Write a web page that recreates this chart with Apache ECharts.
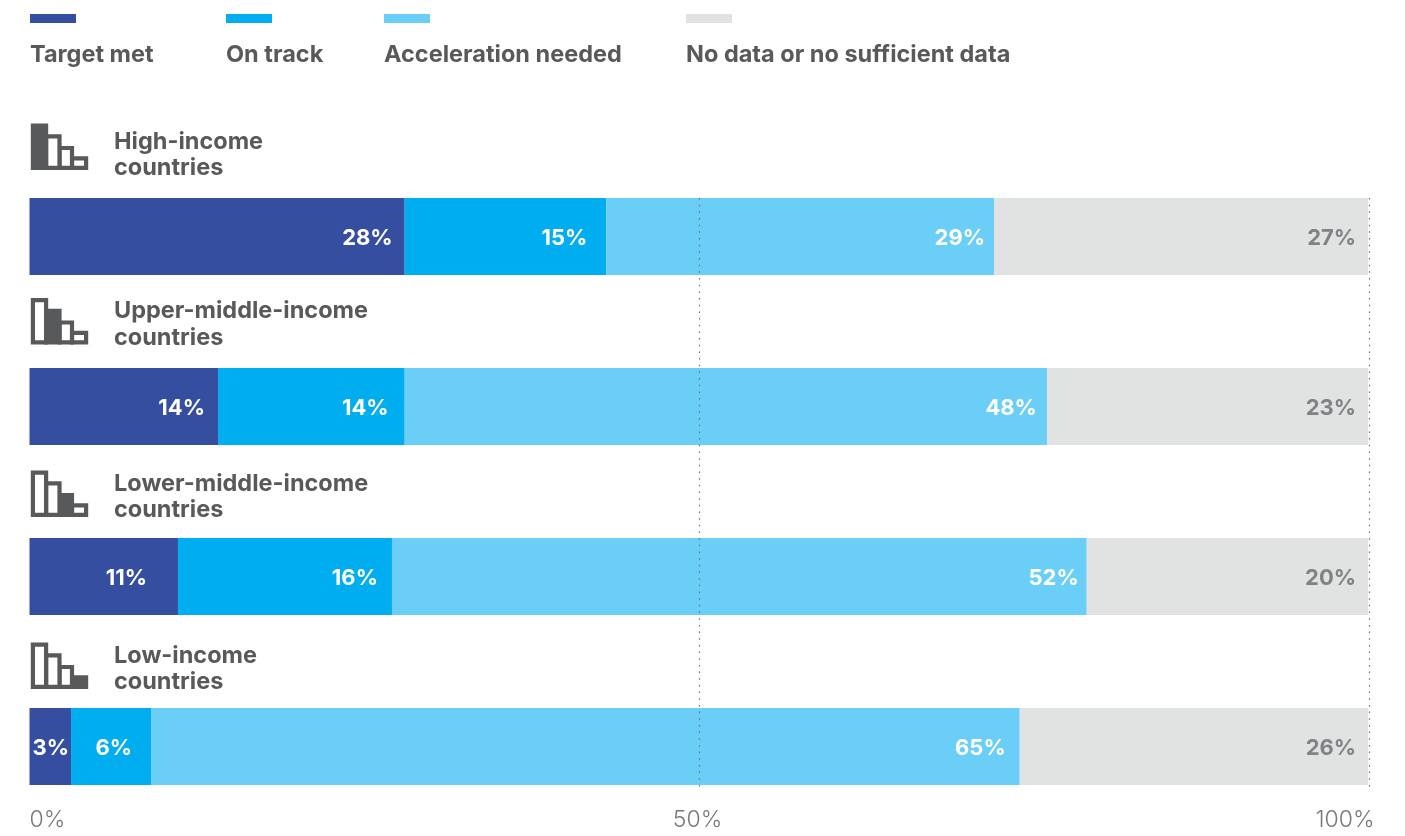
<!doctype html>
<html>
	<head>
		<meta charset="utf-8">
		<title>Progress by income group</title>
		<script type="text/javascript" src="https://cdn.jsdelivr.net/npm/echarts@6/dist/echarts.min.js"></script>
		<style>html,body{margin:0;background:#fff}</style>
	</head>
	<body>
		<div id="JS_chart" style="width:1405px;height:836px;"></div>
		<script type="text/javascript">
// bar lengths, in % of the axis
var categories = ['High-income countries', 'Upper-middle-income countries', 'Lower-middle-income countries', 'Low-income countries'];
var targetMet = [28, 14.07, 11.08, 3.1];
var onTrack = [15.05, 13.93, 15.97, 5.97];
var accelerationNeeded = [28.93, 47.93, 51.85, 64.83];
var noData = [27.92, 23.97, 21, 26];

// printed labels do not always add up to the bars
var targetMetLabels = ['28%', '14%', '11%', '3%'];
var onTrackLabels = ['15%', '14%', '16%', '6%'];
var accelerationLabels = ['29%', '48%', '52%', '65%'];
var noDataLabels = ['27%', '23%', '20%', '26%'];

var seriesNames = ['Target met', 'On track', 'Acceleration needed', 'No data or no sufficient data'];
var rowTitles = [['High-income', 'countries'], ['Upper-middle-income', 'countries'], ['Lower-middle-income', 'countries'], ['Low-income', 'countries']];
var axisTicks = ['0%', '50%', '100%'];

var colors = ['#364ea0', '#00aeef', '#6bcef7', '#e1e3e2'];
var textColor = '#58595b';
var fontName = 'Inter';
var boldFont = '700 23.5px ' + fontName;

// layout of everything around the bars
var legendX = [30, 226, 384, 686];
var rowTitleY = [[142, 168], [311, 338], [484, 510], [656, 682]];
var iconY = [123.5, 298, 470.5, 642.5];
var labelPad = [[12, 19, 9, 12], [13, 16, 10, 12], [31, 14, 8, 12], [2, 19, 14, 12]];

function buildSeries(index, values, labels) {
	return {
		name: seriesNames[index],
		type: 'bar',
		stack: 'total',
		barWidth: 77,
		silent: true,
		itemStyle: {color: colors[index]},
		data: values.map(function (v, i) {
			return {
				value: v,
				label: {
					show: true,
					position: 'insideRight',
					distance: labelPad[i][index],
					offset: [0, 1.5],
					formatter: labels[i],
					color: index == 3 ? '#808285' : '#fff',
					fontFamily: fontName,
					fontWeight: 700,
					fontSize: 22
				}
			};
		})
	};
}

// little staircase icon, the income group's step is filled
function buildIcon(top, filled) {
	var steps = [[32.9, 46.1, 0], [46.1, 59.5, 10.7], [59.5, 72, 22.4], [72, 86.1, 32.7]];
	var bottom = top + 46.5;
	return steps.map(function (s, i) {
		return {
			type: 'rect',
			shape: {x: s[0], y: top + s[2] + 2.1, width: s[1] - s[0], height: bottom - top - s[2] - 4.2},
			style: {fill: i == filled ? textColor : '#fff', stroke: textColor, lineWidth: 4.2}
		};
	});
}

var graphics = [];
seriesNames.forEach(function (name, i) {
	graphics.push({
		type: 'text', x: legendX[i], y: 55,
		style: {text: name, fill: textColor, font: boldFont, textVerticalAlign: 'middle'}
	});
});
rowTitles.forEach(function (lines, i) {
	lines.forEach(function (line, j) {
		graphics.push({
			type: 'text', x: 114, y: rowTitleY[i][j],
			style: {text: line, fill: textColor, font: boldFont, textVerticalAlign: 'middle'}
		});
	});
	buildIcon(iconY[i], i).reverse().forEach(function (r) { graphics.push(r); });
});

var option = {
	animation: false,
	grid: {left: 29.5, width: 1340, top: 151.5, height: 680},
	legend: seriesNames.map(function (name, i) {
		return {
			data: [name], left: legendX[i], top: 14, padding: 0,
			itemWidth: 46, itemHeight: 9, itemStyle: {borderWidth: 0, borderRadius: 0},
			icon: 'rect',
			selectedMode: false,
			formatter: function () { return ''; },
			textStyle: {fontSize: 1}
		};
	}),
	xAxis: {
		type: 'value', min: 0, max: 100, interval: 50,
		axisLine: {show: false}, axisTick: {show: false}, splitLine: {show: false},
		axisLabel: {
			inside: true, margin: 0,
			alignMinLabel: 'left', alignMaxLabel: 'right',
			color: '#77787b', fontFamily: fontName, fontWeight: 300, fontSize: 23,
			formatter: function (v) {
				var tick = axisTicks[v / 50];
				return v == 100 ? '{last|' + tick + '}' : v == 50 ? '{mid|' + tick + '}' : tick;
			},
			rich: {
				last: {padding: [0, -5, 0, 0]},
				mid: {padding: [0, 4, 0, 0]}
			}
		}
	},
	yAxis: {type: 'category', inverse: true, data: categories, show: false},
	graphic: graphics,
	series: [
		buildSeries(0, targetMet, targetMetLabels),
		buildSeries(1, onTrack, onTrackLabels),
		buildSeries(2, accelerationNeeded, accelerationLabels),
		buildSeries(3, noData, noDataLabels)
	]
};
option.series[3].markLine = {
	silent: true, symbol: 'none', label: {show: false},
	lineStyle: {color: '#6d6e71', width: 1.2, type: [1.5, 5.17]},
	data: [
		[{xAxis: 50, y: 198}, {xAxis: 50, y: 787}],
		[{xAxis: 100, y: 198}, {xAxis: 100, y: 787}]
	]
};

var myChart = echarts.init(document.getElementById('JS_chart'));
myChart.setOption(option);
		</script>
	</body>
</html>
